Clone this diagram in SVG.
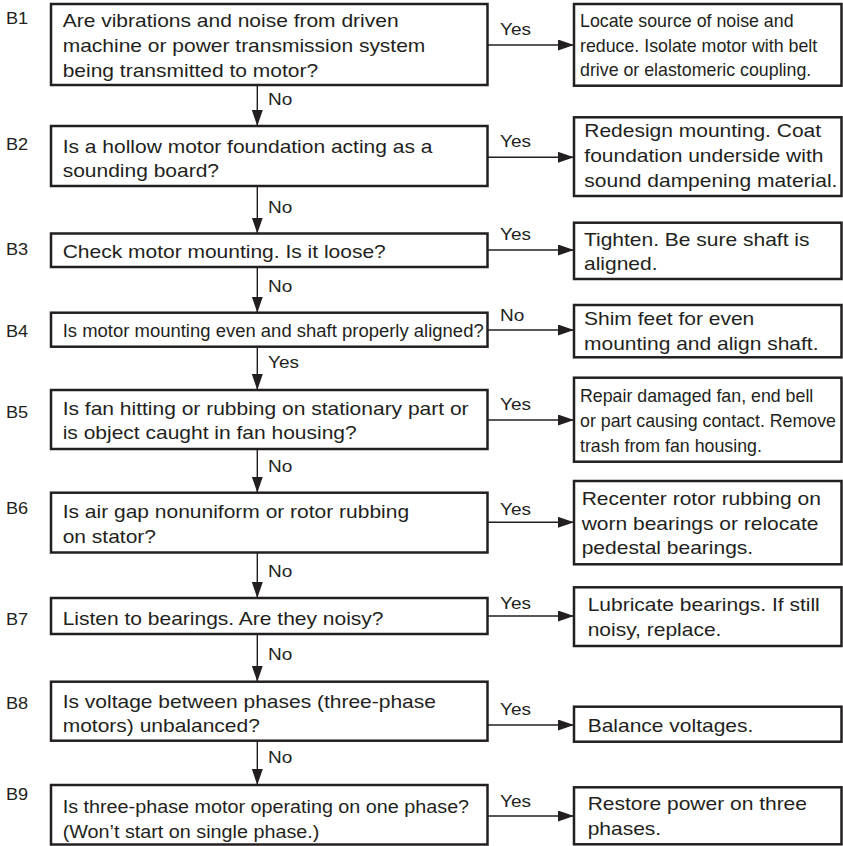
<svg xmlns="http://www.w3.org/2000/svg" width="843" height="846" viewBox="0 0 843 846">
<style>
  .box { fill: #fff; stroke: #231f20; stroke-width: 2.5; }
  .t { font-family: "Liberation Sans", Arial, sans-serif; font-size: 17.5px; fill: #231f20; }
  .c { font-family: "Liberation Sans", Arial, sans-serif; font-size: 17.8px; fill: #231f20; }
  .lbl { font-family: "Liberation Sans", Arial, sans-serif; font-size: 17px; fill: #231f20; }
  .id { font-family: "Liberation Sans", Arial, sans-serif; font-size: 16.5px; fill: #231f20; }
  .ln { fill: none; stroke: #231f20; stroke-width: 1.4; marker-end: url(#ah); }
</style>
<defs>
  <marker id="ah" markerUnits="userSpaceOnUse" markerWidth="17" markerHeight="12" refX="16" refY="5.5" orient="auto">
    <path d="M0,0 L16,5.5 L0,11 Z" fill="#231f20"/>
  </marker>
</defs>
<rect width="843" height="846" fill="#fff"/>

<g id="connectors">
  <line class="ln" x1="487.5" y1="45" x2="574" y2="45"/>
  <line class="ln" x1="487.5" y1="157.3" x2="574" y2="157.3"/>
  <line class="ln" x1="487.5" y1="250" x2="574" y2="250"/>
  <line class="ln" x1="487.5" y1="330" x2="574" y2="330"/>
  <line class="ln" x1="487.5" y1="420" x2="574" y2="420"/>
  <line class="ln" x1="487.5" y1="522.3" x2="574" y2="522.3"/>
  <line class="ln" x1="487.5" y1="616" x2="574" y2="616"/>
  <line class="ln" x1="487.5" y1="725" x2="574" y2="725"/>
  <line class="ln" x1="487.5" y1="816" x2="574" y2="816"/>
  <line class="ln" x1="257.3" y1="85" x2="257.3" y2="126"/>
  <line class="ln" x1="257.3" y1="186" x2="257.3" y2="233.5"/>
  <line class="ln" x1="257.3" y1="267" x2="257.3" y2="312.7"/>
  <line class="ln" x1="257.3" y1="346.7" x2="257.3" y2="390"/>
  <line class="ln" x1="257.3" y1="449" x2="257.3" y2="492.7"/>
  <line class="ln" x1="257.3" y1="552.5" x2="257.3" y2="598"/>
  <line class="ln" x1="257.3" y1="634" x2="257.3" y2="681.7"/>
  <line class="ln" x1="257.3" y1="740.7" x2="257.3" y2="785"/>
  <g class="lbl">
    <text transform="translate(500 35) scale(1.12 1)">Yes</text>
    <text transform="translate(500 146.7) scale(1.12 1)">Yes</text>
    <text transform="translate(500 240) scale(1.12 1)">Yes</text>
    <text transform="translate(500 321) scale(1.12 1)">No</text>
    <text transform="translate(500 410) scale(1.12 1)">Yes</text>
    <text transform="translate(500 515) scale(1.12 1)">Yes</text>
    <text transform="translate(500 609.3) scale(1.12 1)">Yes</text>
    <text transform="translate(500 715) scale(1.12 1)">Yes</text>
    <text transform="translate(500 806.7) scale(1.12 1)">Yes</text>
    <text transform="translate(268 105) scale(1.12 1)">No</text>
    <text transform="translate(268 213) scale(1.12 1)">No</text>
    <text transform="translate(268 292) scale(1.12 1)">No</text>
    <text transform="translate(268 368) scale(1.12 1)">Yes</text>
    <text transform="translate(268 471.7) scale(1.12 1)">No</text>
    <text transform="translate(268 577) scale(1.12 1)">No</text>
    <text transform="translate(268 660) scale(1.12 1)">No</text>
    <text transform="translate(268 763) scale(1.12 1)">No</text>
  </g>
</g>

<g id="B1">
  <text class="id" transform="translate(6 24) scale(1.1 1)">B1</text>
  <rect class="box" x="51" y="4" width="436.5" height="81"/>
  <text class="t" transform="translate(62.7 26.7) scale(1.2 1)"><tspan x="0" y="0">Are vibrations and noise from driven</tspan><tspan x="0" y="25">machine or power transmission system</tspan><tspan x="0" y="50">being transmitted to motor?</tspan></text>
</g>
<g id="R1">
  <rect class="box" x="574" y="4" width="267.5" height="81.7"/>
  <text class="c"><tspan x="580" y="26.7">Locate source of noise and</tspan><tspan x="580" y="51.7">reduce. Isolate motor with belt</tspan><tspan x="580" y="76.3">drive or elastomeric coupling.</tspan></text>
</g>

<g id="B2">
  <text class="id" transform="translate(6 150) scale(1.1 1)">B2</text>
  <rect class="box" x="51" y="126" width="436.5" height="60"/>
  <text class="t" transform="translate(62.7 153) scale(1.2 1)"><tspan x="0" y="0">Is a hollow motor foundation acting as a</tspan><tspan x="0" y="24">sounding board?</tspan></text>
</g>
<g id="R2">
  <rect class="box" x="574" y="117.3" width="267.5" height="78.7"/>
  <text class="t" transform="translate(584.3 137.3) scale(1.2 1)"><tspan x="0" y="0">Redesign mounting. Coat</tspan><tspan x="0" y="25">foundation underside with</tspan><tspan x="0" y="50">sound dampening material.</tspan></text>
</g>

<g id="B3">
  <text class="id" transform="translate(6 255) scale(1.1 1)">B3</text>
  <rect class="box" x="51" y="233.5" width="436.5" height="33.5"/>
  <text class="t" transform="translate(62.7 258) scale(1.2 1)">Check motor mounting. Is it loose?</text>
</g>
<g id="R3">
  <rect class="box" x="574" y="222.7" width="267.5" height="56.3"/>
  <text class="t" transform="translate(584 245.7) scale(1.2 1)"><tspan x="0" y="0">Tighten. Be sure shaft is</tspan><tspan x="0" y="24.5">aligned.</tspan></text>
</g>

<g id="B4">
  <text class="id" transform="translate(6 336.7) scale(1.1 1)">B4</text>
  <rect class="box" x="51" y="312.7" width="436.5" height="34"/>
  <text class="t" x="62.7" y="337" textLength="421" lengthAdjust="spacingAndGlyphs">Is motor mounting even and shaft properly aligned?</text>
</g>
<g id="R4">
  <rect class="box" x="574" y="305" width="267.5" height="52.3"/>
  <text class="t" transform="translate(584 325) scale(1.2 1)"><tspan x="0" y="0">Shim feet for even</tspan><tspan x="0" y="25">mounting and align shaft.</tspan></text>
</g>

<g id="B5">
  <text class="id" transform="translate(6 418) scale(1.1 1)">B5</text>
  <rect class="box" x="51" y="390" width="436.5" height="59"/>
  <text class="t" transform="translate(62.7 415) scale(1.2 1)"><tspan x="0" y="0">Is fan hitting or rubbing on stationary part or</tspan><tspan x="0" y="24">is object caught in fan housing?</tspan></text>
</g>
<g id="R5">
  <rect class="box" x="574" y="377.7" width="267.5" height="84"/>
  <text class="c"><tspan x="580" y="401.7">Repair damaged fan, end bell</tspan><tspan x="580" y="426.7">or part causing contact. Remove</tspan><tspan x="580" y="451.7">trash from fan housing.</tspan></text>
</g>

<g id="B6">
  <text class="id" transform="translate(6 514) scale(1.1 1)">B6</text>
  <rect class="box" x="51" y="492.7" width="436.5" height="59.8"/>
  <text class="t" transform="translate(62.7 518) scale(1.2 1)"><tspan x="0" y="0">Is air gap nonuniform or rotor rubbing</tspan><tspan x="0" y="24.7">on stator?</tspan></text>
</g>
<g id="R6">
  <rect class="box" x="574" y="481" width="267.5" height="83.3"/>
  <text class="t" transform="translate(581.7 505) scale(1.2 1)"><tspan x="0" y="0">Recenter rotor rubbing on</tspan><tspan x="0" y="25">worn bearings or relocate</tspan><tspan x="0" y="49.3">pedestal bearings.</tspan></text>
</g>

<g id="B7">
  <text class="id" transform="translate(6 625) scale(1.1 1)">B7</text>
  <rect class="box" x="51" y="598" width="436.5" height="36"/>
  <text class="t" transform="translate(62.7 625) scale(1.2 1)">Listen to bearings. Are they noisy?</text>
</g>
<g id="R7">
  <rect class="box" x="574" y="587.3" width="267.5" height="58.7"/>
  <text class="t" transform="translate(587.7 611) scale(1.2 1)"><tspan x="0" y="0">Lubricate bearings. If still</tspan><tspan x="0" y="24.7">noisy, replace.</tspan></text>
</g>

<g id="B8">
  <text class="id" transform="translate(6 709) scale(1.1 1)">B8</text>
  <rect class="box" x="51" y="681.7" width="436.5" height="59"/>
  <text class="t" transform="translate(62.7 708) scale(1.2 1)"><tspan x="0" y="0">Is voltage between phases (three-phase</tspan><tspan x="0" y="23.7">motors) unbalanced?</tspan></text>
</g>
<g id="R8">
  <rect class="box" x="574" y="706.7" width="267.5" height="35"/>
  <text class="t" transform="translate(587.7 731.7) scale(1.2 1)">Balance voltages.</text>
</g>

<g id="B9">
  <text class="id" transform="translate(6 800) scale(1.1 1)">B9</text>
  <rect class="box" x="51" y="785" width="436.5" height="59.5"/>
  <text class="t" transform="translate(62.7 813) scale(1.13 1)"><tspan x="0" y="0">Is three-phase motor operating on one phase?</tspan><tspan x="0" y="25">(Won’t start on single phase.)</tspan></text>
</g>
<g id="R9">
  <rect class="box" x="574" y="787.3" width="267.5" height="57"/>
  <text class="t" transform="translate(587.7 810) scale(1.2 1)"><tspan x="0" y="0">Restore power on three</tspan><tspan x="0" y="25">phases.</tspan></text>
</g>
</svg>
